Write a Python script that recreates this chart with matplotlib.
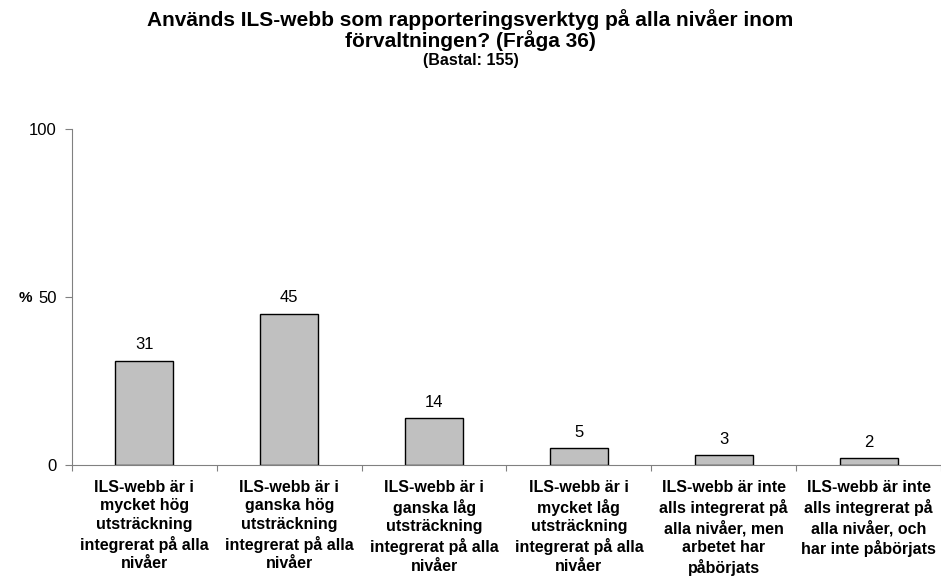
import numpy as np
import matplotlib.pyplot as plt

plt.rcParams['font.family'] = ['Liberation Sans', 'DejaVu Sans']

# data
categories = [
    "ILS-webb är i\nmycket hög\nutsträckning\nintegrerat på alla\nnivåer",
    "ILS-webb är i\nganska hög\nutsträckning\nintegrerat på alla\nnivåer",
    "ILS-webb är i\nganska låg\nutsträckning\nintegrerat på alla\nnivåer",
    "ILS-webb är i\nmycket låg\nutsträckning\nintegrerat på alla\nnivåer",
    "ILS-webb är inte\nalls integrerat på\nalla nivåer, men\narbetet har\npåbörjats",
    "ILS-webb är inte\nalls integrerat på\nalla nivåer, och\nhar inte påbörjats",
]
values = [31, 45, 14, 5, 3, 2]
yticks = [0, 50, 100]
title_lines = ["Används ILS-webb som rapporteringsverktyg på alla nivåer inom",
               "förvaltningen? (Fråga 36)"]
subtitle = "(Bastal: 155)"

W, H = 941, 579
fig = plt.figure(figsize=(W / 100, H / 100), dpi=100)
ax = fig.add_axes([72 / W, 1 - 465 / H, 1 - 72 / W, 336 / H])

x = np.arange(len(values))
ax.bar(x, values, width=0.4, color='#C0C0C0', edgecolor='black', linewidth=1.0)

for xi, v in zip(x, values):
    ax.text(xi, v + 2.5, str(v), ha='center', va='bottom', fontsize=12)

ax.set_xlim(-0.5, len(values) - 0.5)
ax.set_ylim(0, 100)
ax.set_yticks(yticks)
ax.set_yticklabels([str(t) for t in yticks], fontsize=12)
ax.tick_params(axis='y', direction='out', length=5, color='#808080', pad=6)

# category ticks sit between bars, labels in the middle
ax.set_xticks(np.arange(len(values) + 1) - 0.5)
ax.set_xticklabels([])
ax.tick_params(axis='x', direction='out', length=4, color='#808080')
for xi, lab in zip(x, categories):
    ax.text(xi, -4.5, lab, ha='center', va='top', fontsize=11.5, fontweight='bold',
            linespacing=1.28)

for s in ['top', 'right']:
    ax.spines[s].set_visible(False)
for s in ['left', 'bottom']:
    ax.spines[s].set_color('#808080')

fig.text(25 / W, 1 - 298 / H, '%', fontsize=11, fontweight='bold', ha='center', va='center')

fig.text(0.5, 1 - 20 / H, title_lines[0], ha='center', va='center', fontsize=15, fontweight='bold')
fig.text(0.5, 1 - 41 / H, title_lines[1], ha='center', va='center', fontsize=15, fontweight='bold')
fig.text(0.5, 1 - 61 / H, subtitle, ha='center', va='center', fontsize=11.5, fontweight='bold')

fig.savefig('out.png', dpi=100)
